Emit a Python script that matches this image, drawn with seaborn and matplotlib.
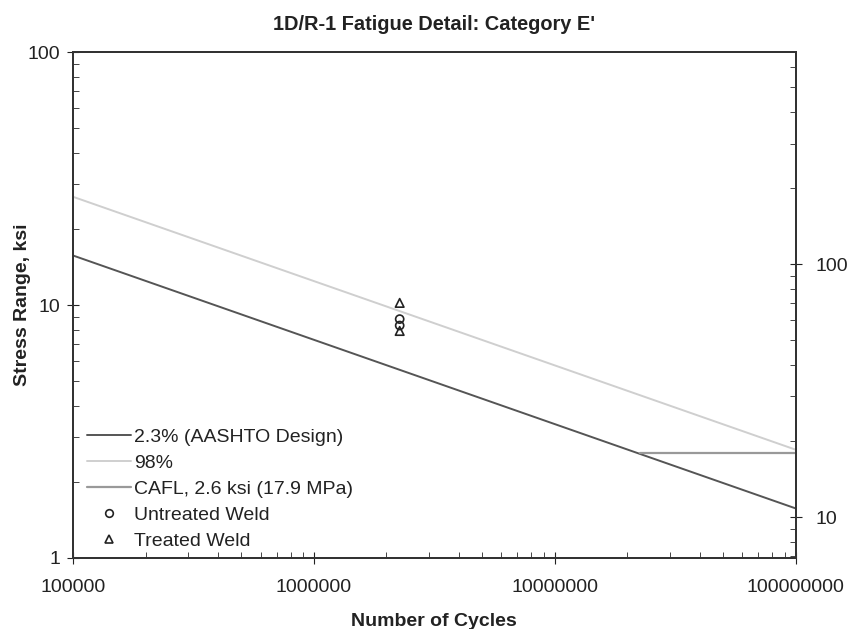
"""
S-N кривая: деталь 1D/R-1, категория E'
"""

import numpy as np
import pandas as pd
import seaborn as sns
import matplotlib
matplotlib.use("Agg")
import matplotlib.pyplot as plt
from matplotlib.ticker import LogLocator, FuncFormatter, NullFormatter
from matplotlib.lines import Line2D

# данные
cycles_line = [1e5, 1e8]
design_ksi = [15.7, 1.57]      # 2.3% (AASHTO Design)
p98_ksi = [26.8, 2.68]         # 98%
cafl_cycles = [2.25e7, 1e8]
cafl_ksi = [2.6, 2.6]          # CAFL, 2.6 ksi

untreated_cycles = [2.27e6, 2.27e6]
untreated_ksi = [8.8, 8.3]
treated_cycles = [2.27e6, 2.27e6]
treated_ksi = [10.2, 7.9]

KSI_TO_MPA = 6.895

sns.set_style("ticks")
plt.rcParams["font.family"] = ["Liberation Sans", "DejaVu Sans"]

fig = plt.figure(figsize=(8.5, 6.29), dpi=100)
ax = fig.add_axes([0.086, 0.113, 0.85, 0.804])

sns.lineplot(x=cycles_line, y=design_ksi, ax=ax, color="#555555", lw=1.4)
sns.lineplot(x=cycles_line, y=p98_ksi, ax=ax, color="#cfcfcf", lw=1.4)
sns.lineplot(x=cafl_cycles, y=cafl_ksi, ax=ax, color="#999999", lw=1.6)
sns.scatterplot(x=untreated_cycles, y=untreated_ksi, ax=ax, marker="o", s=34,
                facecolor="none", edgecolor="#222222", linewidth=1.2)
sns.scatterplot(x=treated_cycles, y=treated_ksi, ax=ax, marker="^", s=38,
                facecolor="none", edgecolor="#222222", linewidth=1.2)

ax.set_xscale("log")
ax.set_yscale("log")
ax.set_xlim(1e5, 1e8)
ax.set_ylim(1, 100)

fmt = FuncFormatter(lambda v, p: "%d" % round(v))
ax.xaxis.set_major_formatter(fmt)
ax.yaxis.set_major_formatter(fmt)
ax.xaxis.set_minor_locator(LogLocator(base=10, subs=np.arange(2, 10)))
ax.yaxis.set_minor_locator(LogLocator(base=10, subs=np.arange(2, 10)))
ax.xaxis.set_minor_formatter(NullFormatter())
ax.yaxis.set_minor_formatter(NullFormatter())
ax.tick_params(which="major", direction="inout", length=9, width=0.8,
               labelsize=14, colors="#222222", pad=5)
ax.tick_params(axis="x", which="major", pad=11)
ax.tick_params(which="minor", direction="in", length=4, width=0.7,
               colors="#444444")

for sp in ax.spines.values():
    sp.set_linewidth(1.4)
    sp.set_color("#333333")

# правая ось в МПа
ax2 = ax.twinx()
ax2.set_yscale("log")
ax2.set_ylim(1 * KSI_TO_MPA, 100 * KSI_TO_MPA)
ax2.yaxis.set_major_locator(LogLocator(base=10))
ax2.yaxis.set_minor_locator(LogLocator(base=10, subs=np.arange(2, 10)))
ax2.yaxis.set_major_formatter(fmt)
ax2.yaxis.set_minor_formatter(NullFormatter())
ax2.tick_params(which="major", direction="inout", length=9, width=0.8,
                labelsize=14, colors="#222222", pad=10)
ax2.tick_params(which="minor", direction="in", length=4, width=0.7,
                colors="#444444")
for sp in ax2.spines.values():
    sp.set_linewidth(1.4)
    sp.set_color("#333333")

ax.set_title("1D/R-1 Fatigue Detail: Category E'", fontsize=14.4,
             fontweight="bold", color="#222222", pad=16)
ax.set_xlabel("Number of Cycles", fontsize=14, fontweight="bold",
              color="#222222", labelpad=12)
ax.set_ylabel("Stress Range, ksi", fontsize=14, fontweight="bold",
              color="#222222")
ax.yaxis.set_label_coords(-0.058, 0.5)

handles = [
    Line2D([], [], color="#555555", lw=1.4),
    Line2D([], [], color="#cfcfcf", lw=1.4),
    Line2D([], [], color="#999999", lw=1.6),
    Line2D([], [], ls="none", marker="o", ms=5.5, mfc="none", mec="#222222", mew=1.2),
    Line2D([], [], ls="none", marker="^", ms=5.5, mfc="none", mec="#222222", mew=1.2),
]
labels = ["2.3% (AASHTO Design)", "98%", "CAFL, 2.6 ksi (17.9 MPa)",
          "Untreated Weld", "Treated Weld"]
leg = ax.legend(handles, labels, loc="lower left", frameon=False, fontsize=14,
                handlelength=2.3, handletextpad=0.15, labelspacing=0.43,
                borderaxespad=0.1, borderpad=0.3, bbox_to_anchor=(0.008, 0.0))
for t in leg.get_texts():
    t.set_color("#222222")

fig.savefig("out.png", dpi=100)
